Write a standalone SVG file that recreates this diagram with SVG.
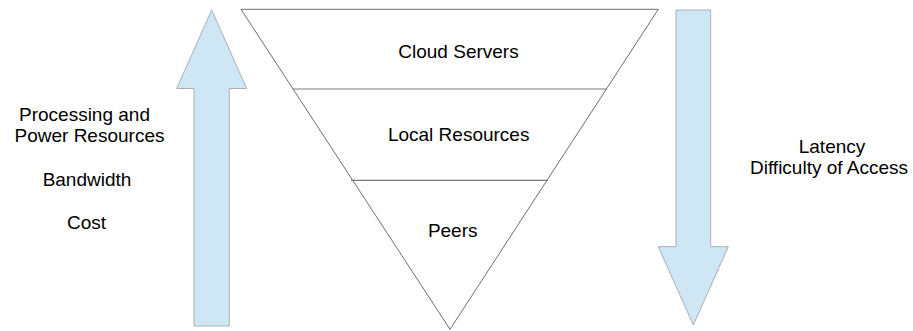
<svg xmlns="http://www.w3.org/2000/svg" width="913" height="331" viewBox="0 0 913 331">
<style>
.arrow{fill:#cfe7f5;stroke:#a8b0b8;stroke-width:1}
.tri{fill:#ffffff;stroke:#6e6e6e;stroke-width:1}
.div{stroke:#7a7a7a;stroke-width:1.2;fill:none}
text{font-family:"Liberation Sans",Arial,sans-serif;font-size:19px;fill:#000;text-anchor:middle}
</style>
<rect width="913" height="331" fill="#ffffff"/>
<g id="up-arrow">
<polygon class="arrow" points="211.7,10 246.7,88.5 229.3,88.5 229.3,326 194,326 194,88.5 176.7,88.5"/>
</g>
<g id="down-arrow">
<polygon class="arrow" points="676,10 710.7,10 710.7,246.7 728.3,246.7 693.3,325 658.3,246.7 676,246.7"/>
</g>
<g id="funnel">
<polygon class="tri" points="241,9.3 658.3,9.3 450,329.3"/>
</g>
<g id="connectors">
<line class="div" x1="292.7" y1="89" x2="606.7" y2="89"/>
<line class="div" x1="351" y1="180.3" x2="548" y2="180.3"/>
</g>
<g id="cloud-servers"><text x="458.5" y="57.7">Cloud Servers</text></g>
<g id="local-resources"><text x="458.7" y="141.3">Local Resources</text></g>
<g id="peers"><text x="452.7" y="236.7">Peers</text></g>
<g id="left-labels">
<text x="84.5" y="120.7">Processing and</text>
<text x="89.5" y="142.3">Power Resources</text>
<text x="87" y="185.7">Bandwidth</text>
<text x="86.5" y="229.3">Cost</text>
</g>
<g id="right-labels">
<text x="832" y="153.3">Latency</text>
<text x="829" y="174.3">Difficulty of Access</text>
</g>
</svg>
